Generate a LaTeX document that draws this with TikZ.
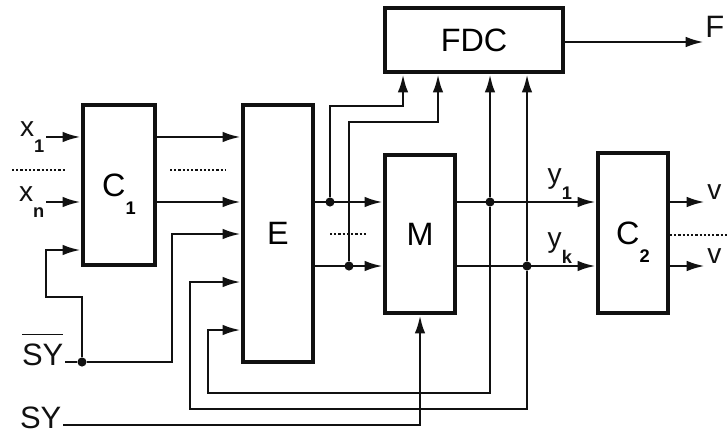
\documentclass[tikz,border=0pt]{standalone}
\usepackage{fontspec}
\setmainfont{Liberation Sans}
\usetikzlibrary{arrows.meta,positioning,calc}
\definecolor{ink}{HTML}{111111}
\newcommand{\sublbl}[2]{#1\raisebox{-0.55em}{\fontsize{13}{13}\selectfont\bfseries #2}}
\tikzset{
  blk/.style  ={draw=ink, fill=white, line width=3pt, inner sep=0pt,
                text depth=0pt, font=\fontsize{23}{25}\selectfont},
  wire/.style ={draw=ink, line width=2pt},
  arr/.style  ={wire, -{Latex[length=13pt,width=7.5pt]}},
  jn/.style   ={circle, fill=ink, inner sep=0pt, minimum size=6.5pt},
  dots/.style ={draw=ink, line width=1.4pt, dash pattern=on 1.6pt off 1.4pt},
  lbl/.style  ={font=\fontsize{20}{22}\selectfont, text=ink, inner sep=1pt},
  big/.style  ={font=\fontsize{22}{24}\selectfont, text=ink, inner sep=1pt},
}

\begin{document}
\begin{tikzpicture}[x=0.025cm,y=-0.025cm]
  \path[use as bounding box, fill=white] (0,0) rectangle (728,445);

  \node[blk,minimum width=1.8cm,minimum height=4cm] (C1) at (119,185) {\sublbl{C}{1}};
  \node[blk,minimum width=1.75cm,minimum height=6.425cm] (E) at (278,233.5) {E};
  \node[blk,minimum width=1.75cm,minimum height=3.95cm] (M) at (420,234) {M};
  \node[blk,minimum width=1.75cm,minimum height=4cm] (C2) at (633,233) {\sublbl{C}{2}};
  \node[blk,minimum width=4.45cm,minimum height=1.6cm] (FDC) at (474,40) {FDC};

  \node[lbl,anchor=east] (x1) at (46,137) {\sublbl{x}{1}};
  \node[lbl,anchor=east] (xn) at (46,202) {\sublbl{x}{n}};
  \node[big,anchor=mid east] (sybar) at (65,362) {$\overline{\rule{0pt}{0.95em}\mbox{SY}}$};
  \node[big,anchor=mid east] (sy) at (63,425) {SY};

  \node[jn] (js) at (82,362) {};
  \node[jn] (ja) at (330,202) {};
  \node[jn] (jb) at (349,266) {};
  \node[jn] (jc) at (490,202) {};
  \node[jn] (jd) at (527,266) {};

  \coordinate (ka) at (172,234);
  \coordinate (kb) at (46,297);
  \coordinate (kc) at (46,250);
  \coordinate (pa) at (403,106);
  \coordinate (pb) at (438,122);
  \coordinate (pc) at (208,393);
  \coordinate (pd) at (208,330);
  \coordinate (pe) at (190,409);
  \coordinate (pf) at (190,282);
  \coordinate (fo) at (704,42);
  \coordinate (va) at (705,202);
  \coordinate (vb) at (705,266);

  \draw[arr] (x1.east) -- (x1.east -| C1.west);
  \draw[arr] (xn.east) -- (xn.east -| C1.west);
  \draw[arr] (C1.east |- x1.east) -- (E.west |- x1.east);
  \draw[arr] (C1.east |- xn.east) -- (E.west |- xn.east);

  \draw[wire] (sybar.mid east) -- (js);
  \draw[arr] (js) -| (ka) -- (ka -| E.west);
  \draw[arr] (js) |- (kb) -- (kc) -- (kc -| C1.west);
  \draw[arr] (sy.mid east) -| (M.south);

  \draw[arr] (E.east |- ja) -- (M.west |- ja);
  \draw[arr] (E.east |- jb) -- (M.west |- jb);
  \draw[arr] (ja) |- (pa) -- (pa |- FDC.south);
  \draw[arr] (jb) |- (pb) -- (pb |- FDC.south);

  \draw[arr] (M.east |- jc) -- node[lbl,pos=0.74,above] {\sublbl{y}{1}} (C2.west |- jc);
  \draw[arr] (M.east |- jd) -- node[lbl,pos=0.74,above] {\sublbl{y}{k}} (C2.west |- jd);
  \draw[arr] (jc) -- (jc |- FDC.south);
  \draw[arr] (jd) -- (jd |- FDC.south);
  \draw[arr] (jc) |- (pc) -- (pd) -- (pd -| E.west);
  \draw[arr] (jd) |- (pe) -- (pf) -- (pf -| E.west);

  \draw[arr] (FDC.east |- fo) -- (fo);
  \node[big,anchor=base west,inner sep=0pt] (F) at (705,38) {F};
  \draw[arr] (C2.east |- va) -- (va);
  \draw[arr] (C2.east |- vb) -- (vb);
  \node[lbl,anchor=base west,inner sep=0pt] (v1) at (707,200) {v};
  \node[lbl,anchor=base west,inner sep=0pt] (vk) at (707,263) {v};

  \draw[dots] (12,170) -- (65,170);
  \draw[dots] (170,170) -- (225,170);
  \draw[dots] (330,234) -- (367,234);
  \draw[dots] (670,235) -- (728,235);
\end{tikzpicture}
\end{document}
